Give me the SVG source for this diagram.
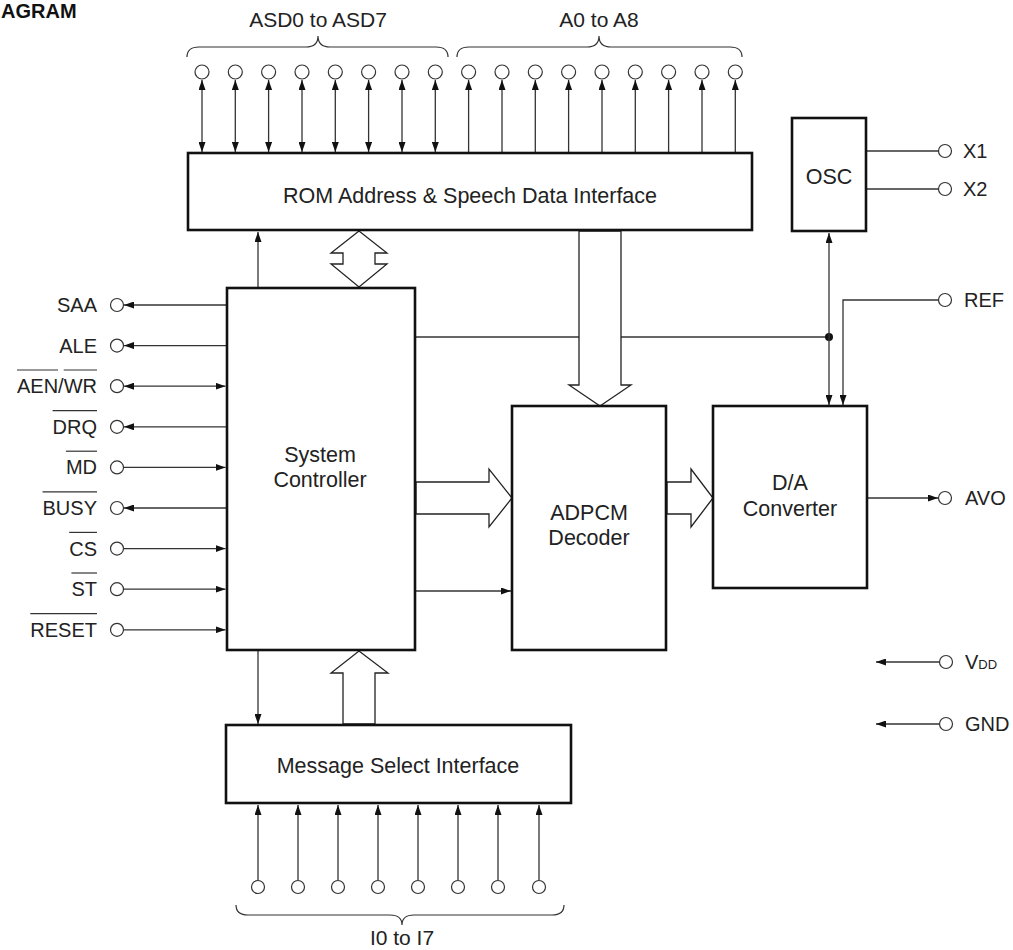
<svg xmlns="http://www.w3.org/2000/svg" width="1013" height="950" viewBox="0 0 1013 950">
<style>
.box{fill:#fff;stroke:#111;stroke-width:2.6}
.ln{fill:none;stroke:#333;stroke-width:1.3}
.ar{marker-end:url(#ah)}
.bi{marker-start:url(#ah);marker-end:url(#ah)}
.pin{fill:#fff;stroke:#333;stroke-width:1.2}
.hol{fill:#fff;stroke:#222;stroke-width:1.3;stroke-linejoin:miter}
text{font-family:"Liberation Sans",Arial,sans-serif;font-size:20px;fill:#222}
.bt{font-size:21.5px}
.tt{font-size:21px}
.c{text-anchor:middle}
.e{text-anchor:end}
.ov{stroke:#333;stroke-width:1.2}
.br{fill:none;stroke:#333;stroke-width:1.2}
</style>
<defs>
<marker id="ah" viewBox="0 0 10 7" refX="10" refY="3.5" markerWidth="10" markerHeight="7" markerUnits="userSpaceOnUse" orient="auto-start-reverse">
<path d="M0,0 L10,3.5 L0,7 z" fill="#111"/>
</marker>
</defs>
<rect width="1013" height="950" fill="#fff"/>
<text x="1" y="18" style="font-weight:bold;font-size:20px;fill:#111">AGRAM</text>

<g id="connectors">
<line class="ln bi" x1="202" y1="80" x2="202" y2="152"/>
<line class="ln bi" x1="235.3" y1="80" x2="235.3" y2="152"/>
<line class="ln bi" x1="268.6" y1="80" x2="268.6" y2="152"/>
<line class="ln bi" x1="302" y1="80" x2="302" y2="152"/>
<line class="ln bi" x1="335.3" y1="80" x2="335.3" y2="152"/>
<line class="ln bi" x1="368.6" y1="80" x2="368.6" y2="152"/>
<line class="ln bi" x1="402" y1="80" x2="402" y2="152"/>
<line class="ln bi" x1="435.3" y1="80" x2="435.3" y2="152"/>
<line class="ln ar" x1="468.6" y1="153" x2="468.6" y2="80"/>
<line class="ln ar" x1="502" y1="153" x2="502" y2="80"/>
<line class="ln ar" x1="535.3" y1="153" x2="535.3" y2="80"/>
<line class="ln ar" x1="568.6" y1="153" x2="568.6" y2="80"/>
<line class="ln ar" x1="602" y1="153" x2="602" y2="80"/>
<line class="ln ar" x1="635.3" y1="153" x2="635.3" y2="80"/>
<line class="ln ar" x1="668.6" y1="153" x2="668.6" y2="80"/>
<line class="ln ar" x1="702" y1="153" x2="702" y2="80"/>
<line class="ln ar" x1="735.3" y1="153" x2="735.3" y2="80"/>
<line class="ln ar" x1="226" y1="305" x2="124" y2="305"/>
<line class="ln ar" x1="226" y1="345.6" x2="124" y2="345.6"/>
<line class="ln bi" x1="124" y1="386.2" x2="225.5" y2="386.2"/>
<line class="ln ar" x1="226" y1="426.8" x2="124" y2="426.8"/>
<line class="ln ar" x1="124" y1="467.4" x2="225.5" y2="467.4"/>
<line class="ln ar" x1="226" y1="508" x2="124" y2="508"/>
<line class="ln ar" x1="124" y1="548.6" x2="225.5" y2="548.6"/>
<line class="ln ar" x1="124" y1="589.2" x2="225.5" y2="589.2"/>
<line class="ln ar" x1="124" y1="629.8" x2="225.5" y2="629.8"/>
<line class="ln ar" x1="258" y1="288" x2="258" y2="232"/>
<line class="ln ar" x1="258" y1="651" x2="258" y2="724"/>
<line class="ln ar" x1="258" y1="880" x2="258" y2="805"/>
<line class="ln ar" x1="298" y1="880" x2="298" y2="805"/>
<line class="ln ar" x1="338" y1="880" x2="338" y2="805"/>
<line class="ln ar" x1="378" y1="880" x2="378" y2="805"/>
<line class="ln ar" x1="418" y1="880" x2="418" y2="805"/>
<line class="ln ar" x1="458" y1="880" x2="458" y2="805"/>
<line class="ln ar" x1="498" y1="880" x2="498" y2="805"/>
<line class="ln ar" x1="539" y1="880" x2="539" y2="805"/>
<line class="ln ar" x1="415" y1="591" x2="511" y2="591"/>
<line class="ln" x1="415" y1="337" x2="829" y2="337"/>
<circle cx="829" cy="337" r="4" fill="#111"/>
<line class="ln bi" x1="829" y1="233" x2="829" y2="405"/>
<polyline class="ln ar" points="939,300 843,300 843,405"/>
<line class="ln" x1="866" y1="151" x2="939" y2="151"/>
<line class="ln" x1="866" y1="189" x2="939" y2="189"/>
<line class="ln ar" x1="867" y1="498" x2="938" y2="498"/>
<line class="ln ar" x1="939" y1="662" x2="876" y2="662"/>
<line class="ln ar" x1="939" y1="724" x2="876" y2="724"/>
<polygon class="hol" points="359,231 331,253 343,253 343,264 331,264 359,287 387,264 375,264 375,253 387,253"/>
<polygon class="hol" points="579,231 579,385 569,385 600,406 631,385 621,385 621,231"/>
<polygon class="hol" points="416,482 489,482 489,469 512,498 489,527 489,514 416,514"/>
<polygon class="hol" points="667,482 691,482 691,469 713,498 691,527 691,514 667,514"/>
<polygon class="hol" points="343,724 343,673 331,673 359,651 388,673 375,673 375,724"/>
</g>

<g id="rom">
<rect class="box" x="188" y="153" width="564" height="77"/>
<text class="c bt" x="470" y="203">ROM Address &amp; Speech Data Interface</text>
</g>
<g id="system-controller">
<rect class="box" x="227" y="288" width="188" height="362"/>
<text class="c bt" x="320" y="462">System</text>
<text class="c bt" x="320" y="487">Controller</text>
</g>
<g id="adpcm">
<rect class="box" x="512" y="406" width="154" height="244"/>
<text class="c bt" x="589" y="520">ADPCM</text>
<text class="c bt" x="589" y="545">Decoder</text>
</g>
<g id="da">
<rect class="box" x="713" y="406" width="154" height="182"/>
<text class="c bt" x="790" y="490">D/A</text>
<text class="c bt" x="790" y="516">Converter</text>
</g>
<g id="osc">
<rect class="box" x="792" y="118" width="74" height="113"/>
<text class="c bt" x="829" y="184">OSC</text>
</g>
<g id="msi">
<rect class="box" x="226" y="725" width="345" height="78"/>
<text class="c bt" x="398" y="773">Message Select Interface</text>
</g>

<g id="top-pins">
<circle class="pin" cx="202" cy="72" r="7"/>
<circle class="pin" cx="235.3" cy="72" r="7"/>
<circle class="pin" cx="268.6" cy="72" r="7"/>
<circle class="pin" cx="302" cy="72" r="7"/>
<circle class="pin" cx="335.3" cy="72" r="7"/>
<circle class="pin" cx="368.6" cy="72" r="7"/>
<circle class="pin" cx="402" cy="72" r="7"/>
<circle class="pin" cx="435.3" cy="72" r="7"/>
<circle class="pin" cx="468.6" cy="72" r="7"/>
<circle class="pin" cx="502" cy="72" r="7"/>
<circle class="pin" cx="535.3" cy="72" r="7"/>
<circle class="pin" cx="568.6" cy="72" r="7"/>
<circle class="pin" cx="602" cy="72" r="7"/>
<circle class="pin" cx="635.3" cy="72" r="7"/>
<circle class="pin" cx="668.6" cy="72" r="7"/>
<circle class="pin" cx="702" cy="72" r="7"/>
<circle class="pin" cx="735.3" cy="72" r="7"/>
<path class="br" d="M187,57 Q187,47 199,47 L306,47 Q318,47 318,36 Q318,47 330,47 L436,47 Q448,47 448,57"/>
<path class="br" d="M457,57 Q457,47 469,47 L587,47 Q599,47 599,36 Q599,47 611,47 L730,47 Q742,47 742,57"/>
<text class="c tt" x="318" y="27">ASD0 to ASD7</text>
<text class="c tt" x="599" y="27">A0 to A8</text>
</g>

<g id="left-pins">
<circle class="pin" cx="117" cy="305" r="6.5"/>
<circle class="pin" cx="117" cy="345.6" r="6.5"/>
<circle class="pin" cx="117" cy="386.2" r="6.5"/>
<circle class="pin" cx="117" cy="426.8" r="6.5"/>
<circle class="pin" cx="117" cy="467.4" r="6.5"/>
<circle class="pin" cx="117" cy="508" r="6.5"/>
<circle class="pin" cx="117" cy="548.6" r="6.5"/>
<circle class="pin" cx="117" cy="589.2" r="6.5"/>
<circle class="pin" cx="117" cy="629.8" r="6.5"/>
<text class="e" x="97" y="312">SAA</text>
<text class="e" x="97" y="352.6">ALE</text>
<text class="e" x="97" y="393.2">AEN/WR</text>
<text class="e" x="97" y="433.8">DRQ</text>
<text class="e" x="97" y="474.4">MD</text>
<text class="e" x="97" y="515">BUSY</text>
<text class="e" x="97" y="555.6">CS</text>
<text class="e" x="97" y="596.2">ST</text>
<text class="e" x="97" y="636.8">RESET</text>
<line class="ov" x1="17" y1="370" x2="58" y2="370"/>
<line class="ov" x1="63.7" y1="370" x2="97" y2="370"/>
<line class="ov" x1="52.6" y1="410.6" x2="97" y2="410.6"/>
<line class="ov" x1="65.9" y1="451.2" x2="97" y2="451.2"/>
<line class="ov" x1="42.5" y1="491.8" x2="97" y2="491.8"/>
<line class="ov" x1="69.2" y1="532.4" x2="97" y2="532.4"/>
<line class="ov" x1="71.4" y1="573" x2="97" y2="573"/>
<line class="ov" x1="30.3" y1="613.6" x2="97" y2="613.6"/>
</g>

<g id="right-pins">
<circle class="pin" cx="945" cy="151" r="6.5"/>
<circle class="pin" cx="945" cy="189" r="6.5"/>
<circle class="pin" cx="945" cy="300" r="6.5"/>
<circle class="pin" cx="945" cy="498" r="6.5"/>
<circle class="pin" cx="946" cy="662" r="6.5"/>
<circle class="pin" cx="946" cy="724" r="6.5"/>
<text x="963" y="158">X1</text>
<text x="963" y="196">X2</text>
<text x="964" y="307">REF</text>
<text x="965" y="505">AVO</text>
<text x="965" y="669">V<tspan style="font-size:13px">DD</tspan></text>
<text x="965" y="731">GND</text>
</g>

<g id="bottom-pins">
<circle class="pin" cx="258" cy="887" r="6.5"/>
<circle class="pin" cx="298" cy="887" r="6.5"/>
<circle class="pin" cx="338" cy="887" r="6.5"/>
<circle class="pin" cx="378" cy="887" r="6.5"/>
<circle class="pin" cx="418" cy="887" r="6.5"/>
<circle class="pin" cx="458" cy="887" r="6.5"/>
<circle class="pin" cx="498" cy="887" r="6.5"/>
<circle class="pin" cx="539" cy="887" r="6.5"/>
<path class="br" d="M236,905 Q236,915 248,915 L390,915 Q402,915 402,925 Q402,915 414,915 L552,915 Q564,915 564,905"/>
<text class="c tt" x="402" y="945">I0 to I7</text>
</g>
</svg>
